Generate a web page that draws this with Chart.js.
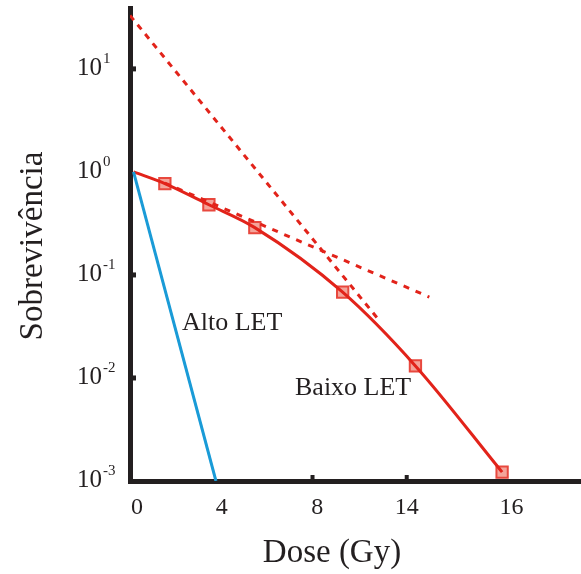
<!DOCTYPE html>
<html>
<head>
<meta charset="utf-8">
<script src="https://cdn.jsdelivr.net/npm/chart.js@4"></script>
<style>
    body { margin: 0; background: #fff; }
</style>
</head>
<body>
<canvas id="chartCanvas" width="581" height="574"></canvas>
<script>
// Survival curves (dose axis position, surviving fraction)
const markerDose = [1.33, 3.2, 5.15, 8.88, 11.97, 15.65];
const markerSurvival = [0.77, 0.48, 0.288, 0.068, 0.0131, 0.00122];

const lowLetDose = [0, 1.33, 3.2, 5.15, 8.88, 11.97, 15.65];
const lowLetSurvival = [1, 0.77, 0.48, 0.288, 0.068, 0.0131, 0.00122];

const highLetDose = [0, 3.5];
const highLetSurvival = [1, 0.001];

const steepDashDose = [-0.15, 10.45];
const steepDashSurvival = [33, 0.0358];

const shallowDashDose = [1.33, 12.56];
const shallowDashSurvival = [0.78, 0.061];

// x tick labels as printed on the original figure
const xTickPositions = [0.15, 3.75, 7.8, 11.6, 16.05];
const xTickLabels = ['0', '4', '8', '14', '16'];
const yTickValues = [10, 1, 0.1, 0.01, 0.001];
const yTickExponents = ['1', '0', '-1', '-2', '-3'];

const ink = '#231f20';
const red = '#e2231a';
const serif = '"Liberation Serif", "Times New Roman", serif';

function toPoints(xs, ys) {
    return xs.map((x, i) => ({ x: x, y: ys[i] }));
}

const textPlugin = {
    id: 'textPlugin',
    afterDraw(chart) {
        const ctx = chart.ctx;
        const xs = chart.scales.x;
        const ys = chart.scales.y;
        ctx.save();
        ctx.fillStyle = ink;

        // y tick labels 10^n
        yTickValues.forEach((v, i) => {
            const y = ys.getPixelForValue(v);
            ctx.font = '25px ' + serif;
            ctx.textAlign = 'left';
            ctx.textBaseline = 'alphabetic';
            ctx.fillText('10', 77, y + 6);
            const w = ctx.measureText('10').width;
            ctx.font = '15px ' + serif;
            ctx.fillText(yTickExponents[i], 77 + w + 1, y - 6);
        });

        // small inner tick marks
        [10, 0.1, 0.01].forEach(v => {
            ctx.fillRect(xs.left, ys.getPixelForValue(v) - 2.5, 6, 5);
        });
        [7.6, 11.6].forEach(v => {
            ctx.fillRect(xs.getPixelForValue(v) - 2, ys.bottom - 6, 4, 6);
        });

        // axis titles
        ctx.font = '33px ' + serif;
        ctx.textAlign = 'center';
        ctx.fillText('Dose (Gy)', 332, 562);
        ctx.save();
        ctx.translate(42, 246);
        ctx.rotate(-Math.PI / 2);
        ctx.fillText('Sobrevivência', 0, 0);
        ctx.restore();

        // curve labels
        ctx.font = '26px ' + serif;
        ctx.textAlign = 'left';
        ctx.fillText('Alto LET', 182, 330);
        ctx.fillText('Baixo LET', 295, 395);
        ctx.restore();
    }
};

const ctx = document.getElementById('chartCanvas').getContext('2d');

new Chart(ctx, {
    type: 'scatter',
    data: {
        datasets: [
            {
                label: 'steep',
                data: toPoints(steepDashDose, steepDashSurvival),
                showLine: true,
                borderColor: red,
                borderWidth: 3,
                borderDash: [6, 6],
                pointRadius: 0
            },
            {
                label: 'shallow',
                data: toPoints(shallowDashDose, shallowDashSurvival),
                showLine: true,
                borderColor: red,
                borderWidth: 3,
                borderDash: [6, 7],
                pointRadius: 0
            },
            {
                label: 'Alto LET',
                data: toPoints(highLetDose, highLetSurvival),
                showLine: true,
                borderColor: '#1a9bd7',
                borderWidth: 3,
                pointRadius: 0
            },
            {
                label: 'Baixo LET',
                data: toPoints(lowLetDose, lowLetSurvival),
                showLine: true,
                borderColor: red,
                borderWidth: 3,
                cubicInterpolationMode: 'monotone',
                pointRadius: 0
            },
            {
                label: 'markers',
                data: toPoints(markerDose, markerSurvival),
                pointStyle: 'rect',
                pointRadius: 8,
                pointBorderWidth: 2,
                pointBorderColor: '#e8483e',
                pointBackgroundColor: '#f4a49a'
            }
        ]
    },
    options: {
        responsive: false,
        animation: false,
        layout: {
            autoPadding: false,
            padding: { top: 8, right: 0, left: 0, bottom: 0 }
        },
        plugins: {
            legend: { display: false },
            tooltip: { enabled: false }
        },
        scales: {
            x: {
                type: 'linear',
                min: -0.15,
                max: 19,
                afterFit: (scale) => {
                    scale.height = 93;
                    scale.paddingLeft = 0;
                    scale.paddingRight = 0;
                },
                afterBuildTicks: (scale) => {
                    scale.ticks = xTickPositions.map(v => ({ value: v }));
                },
                ticks: {
                    autoSkip: false,
                    maxRotation: 0,
                    padding: 12,
                    color: ink,
                    font: { family: serif, size: 24 },
                    callback: (value) => xTickLabels[xTickPositions.indexOf(value)]
                },
                grid: { display: false, drawTicks: false },
                border: { display: true, color: ink, width: 5 }
            },
            y: {
                type: 'logarithmic',
                min: 0.001,
                max: 39,
                afterFit: (scale) => {
                    scale.width = 130;
                    scale.paddingTop = 0;
                    scale.paddingBottom = 0;
                },
                ticks: { display: false },
                grid: { display: false, drawTicks: false },
                border: { display: true, color: ink, width: 5 }
            }
        }
    },
    plugins: [textPlugin]
});
</script>
</body>
</html>
